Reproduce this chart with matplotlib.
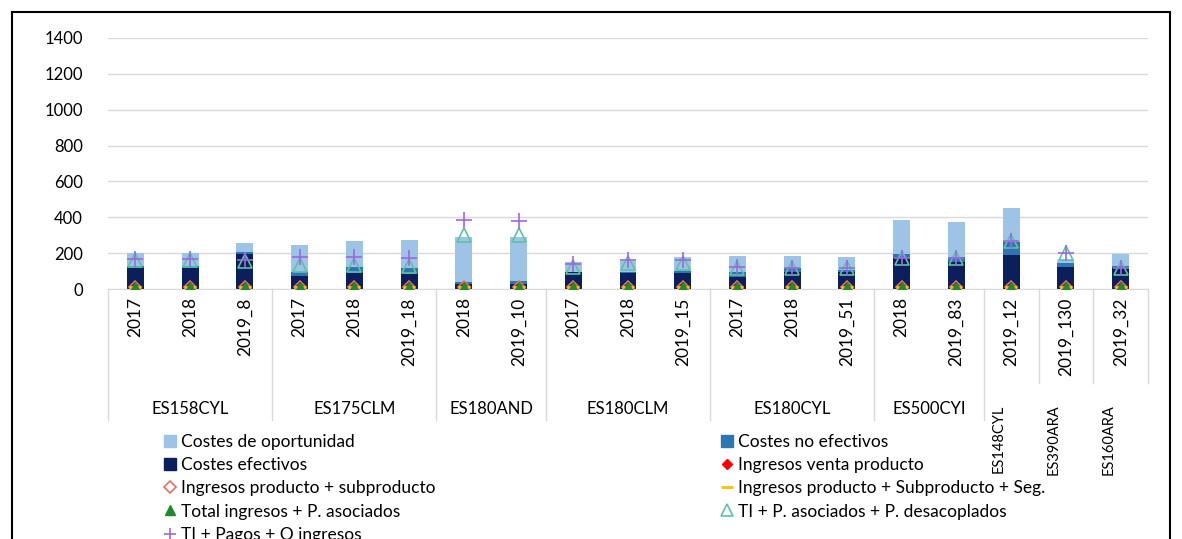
import matplotlib
matplotlib.use("Agg")
import matplotlib.pyplot as plt
from matplotlib.patches import Patch
from matplotlib.lines import Line2D
import numpy as np

plt.rcParams['font.family'] = ['Lato', 'DejaVu Sans']

# Data
categories = ['2017', '2018', '2019_8', '2017', '2018', '2019_18', '2018', '2019_10',
              '2017', '2018', '2019_15', '2017', '2018', '2019_51', '2018', '2019_83',
              '2019_12', '2019_130', '2019_32']
groups = ['ES158CYL', 'ES175CLM', 'ES180AND', 'ES180CLM', 'ES180CYL', 'ES500CYI',
          'ES148CYL', 'ES390ARA', 'ES160ARA']
group_sizes = [3, 3, 2, 3, 3, 2, 1, 1, 1]

costes_efectivos = [116, 116, 196, 73, 92, 82, 28, 28, 93, 88, 88, 69, 97, 97, 172, 153, 191, 125, 116]
costes_no_efectivos = [13, 13, 8, 21, 28, 34, 13, 19, 4, 9, 15, 28, 19, 10, 24, 28, 71, 19, 13]
costes_oportunidad = [71, 71, 52, 151, 145, 155, 249, 243, 53, 61, 78, 88, 69, 69, 191, 191, 189, 16, 65]

ingresos_venta = [8, 8, 8, 8, 8, 8, 8, 8, 8, 8, 8, 8, 8, 8, 8, 8, 8, 8, 8]
ingresos_prod_sub = [10, 10, 10, 10, 10, 10, 10, 10, 10, 10, 10, 10, 10, 10, 10, 10, 10, 10, 10]
ingresos_prod_sub_seg = [12, 12, 12, 12, 12, 12, 12, 12, 12, 12, 12, 12, 12, 12, 12, 12, 12, 12, 12]
total_ingresos_pa = [3, 3, 3, 3, 3, 3, 3, 3, 3, 3, 3, 3, 3, 3, 3, 3, 3, 3, 3]
ti_pa_pd = [160, 160, 155, 135, 135, 130, 303, 303, 125, 145, 145, 116, 116, 116, 172, 172, 266, 200, 116]
ti_pagos_o = [168, 168, 160, 178, 178, 172, 387, 381, 140, 163, 163, 120, 118, 118, 172, 172, 266, 200, 118]

c_oport = '#9DC3E6'
c_noef = '#2E75B6'
c_ef = '#0B1F5C'

fig = plt.figure(figsize=(11.82, 5.39), dpi=100)
ax = fig.add_axes([108 / 1182, 1 - 289 / 539, 1040 / 1182, 251 / 539])

x = np.arange(len(categories))
w = 0.31
ef = np.array(costes_efectivos)
noef = np.array(costes_no_efectivos)
ax.bar(x, ef, w, color=c_ef, zorder=2)
ax.bar(x, noef, w, bottom=ef, color=c_noef, zorder=2)
ax.bar(x, costes_oportunidad, w, bottom=ef + noef, color=c_oport, zorder=2)

ax.plot(x, ingresos_venta, 'D', ls='none', color='#FF0000', ms=5, zorder=3)
ax.plot(x, ingresos_prod_sub, 'D', ls='none', mfc='none', mec='#E8705A', mew=1.2, ms=6, zorder=3)
ax.plot(x, ingresos_prod_sub_seg, '_', ls='none', color='#FFC000', ms=9, mew=2, zorder=3)
ax.plot(x, total_ingresos_pa, '^', ls='none', color='#1E8C2E', ms=9, zorder=4)
ax.plot(x, ti_pa_pd, '^', ls='none', mfc='none', mec='#5CC3A0', mew=1.2, ms=10, zorder=4)
ax.plot(x, ti_pagos_o, '+', ls='none', color='#A066E0', ms=11, mew=1.2, zorder=5)

ax.set_ylim(0, 1400)
ax.set_xlim(-0.5, len(categories) - 0.5)
ax.set_yticks(range(0, 1401, 200))
ax.yaxis.grid(True, color='#D9D9D9', lw=1)
ax.set_axisbelow(True)
for s in ['top', 'right', 'left']:
    ax.spines[s].set_visible(False)
ax.spines['bottom'].set_color('#D9D9D9')
ax.tick_params(axis='y', length=0, labelsize=12, pad=18)
ax.set_xticks(x)
ax.set_xticklabels(categories, rotation=90, fontsize=12.5)
ax.tick_params(axis='x', length=0, pad=6)

# multi-level category axis
trans = ax.get_xaxis_transform()
start = 0
bounds = [-0.5]
for g, n in zip(groups, group_sizes):
    center = start + (n - 1) / 2
    if n > 1:
        ax.text(center, -0.48, g, transform=trans, ha='center', va='center', fontsize=12)
    else:
        ax.text(center - 0.22, -0.46, g, transform=trans, ha='center', va='top',
                rotation=90, fontsize=10.5)
    start += n
    bounds.append(start - 0.5)
for b in bounds:
    bottom = -0.375 if b > 15.6 else -0.52
    ax.plot([b, b], [0, bottom], transform=trans, color='#D9D9D9', lw=1, clip_on=False)

# legend, two columns
fs = 12.5
left_handles = [
    Patch(color=c_oport, label='Costes de oportunidad'),
    Patch(color=c_ef, label='Costes efectivos'),
    Line2D([], [], marker='D', ls='none', mfc='none', mec='#E8705A', mew=1.2, ms=6,
           label='Ingresos producto + subproducto'),
    Line2D([], [], marker='^', ls='none', color='#1E8C2E', ms=7, label='Total ingresos + P. asociados'),
    Line2D([], [], marker='+', ls='none', color='#A066E0', ms=9, mew=1.2, label='TI + Pagos + O ingresos'),
]
right_handles = [
    Patch(color=c_noef, label='Costes no efectivos'),
    Line2D([], [], marker='D', ls='none', color='#FF0000', ms=5, label='Ingresos venta producto'),
    Line2D([], [], marker='_', ls='none', color='#FFC000', ms=9, mew=2,
           label='Ingresos producto + Subproducto + Seg.'),
    Line2D([], [], marker='^', ls='none', mfc='none', mec='#5CC3A0', mew=1.2, ms=9,
           label='TI + P. asociados + P. desacoplados'),
]
leg_kw = dict(frameon=False, fontsize=fs, handlelength=0.7, handleheight=0.7,
              handletextpad=0.3, labelspacing=0.42, borderpad=0, loc='upper left')
fig.legend(handles=left_handles, bbox_to_anchor=(155 / 1182, 1 - 425 / 539), **leg_kw)
fig.legend(handles=right_handles, bbox_to_anchor=(712 / 1182, 1 - 425 / 539), **leg_kw)

# outer frame
for xs, ys in [([12 / 1182, 1170 / 1182], [1 - 12 / 539, 1 - 12 / 539]),
               ([12 / 1182, 12 / 1182], [1 - 12 / 539, 0]),
               ([1170 / 1182, 1170 / 1182], [1 - 12 / 539, 0])]:
    fig.add_artist(Line2D(xs, ys, color='black', lw=1.5))

fig.savefig('out.png', dpi=100)
